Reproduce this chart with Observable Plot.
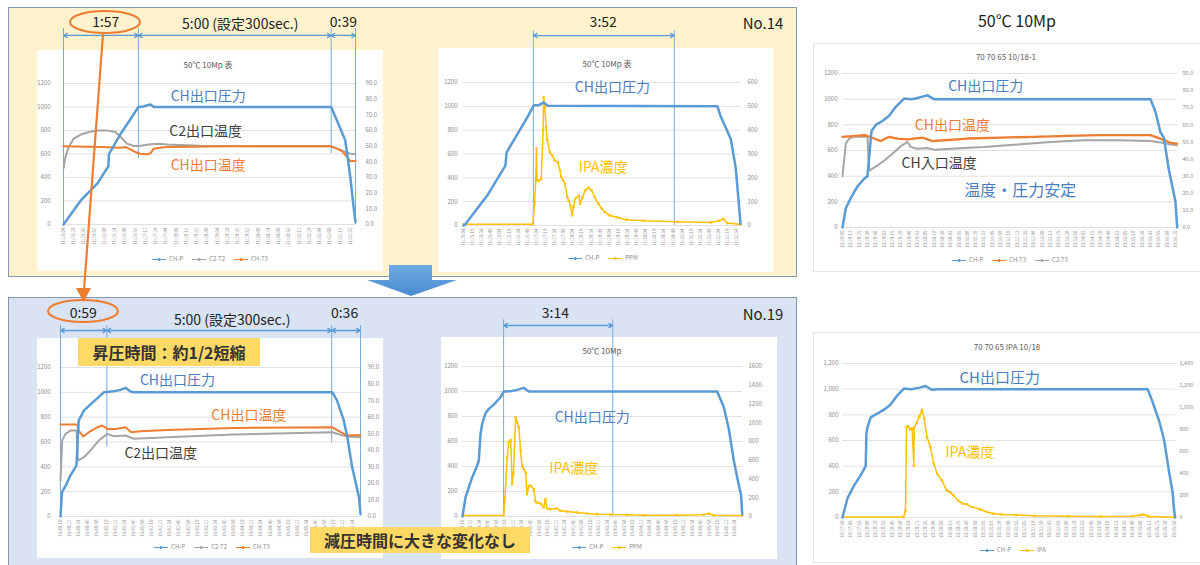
<!DOCTYPE html>
<html><head><meta charset="utf-8">
<script src="https://cdn.jsdelivr.net/npm/d3@7"></script>
<script src="https://cdn.jsdelivr.net/npm/@observablehq/plot@0.6"></script>
<style>
body{margin:0;background:#fff;}
#page{position:relative;width:1200px;height:565px;overflow:hidden;font-family:"Noto Sans CJK JP","Noto Sans",sans-serif;}
.abs{position:absolute;}
.c{position:absolute;transform:translate(-50%,-50%);white-space:nowrap;line-height:1;}
</style></head><body><div id="page"></div><script>
// ---------------- DATA ([seconds, value]) ----------------
// No.14 left chart (CH-P on left axis, temperatures on right axis 0-90)
const n14_CHP  = [[0,0],[27,205],[53,350],[70,495],[71,600],[89,770],[105,900],[117,1000],[125,1005],[131,1015],[136,1021],[141,1000],[418,1000],[429,860],[440,717],[448,400],[453,150],[456,20]];
const n14_C2T2 = [[0,36],[3,43],[8,49.5],[16,54.8],[27,57.4],[40,59],[53,60],[68,60],[81,59],[89,56],[99,51.6],[110,50.1],[118,50.1],[136,51.2],[151,51.6],[162,51],[214,50.3],[318,49.9],[418,49.9],[427,48.4],[440,46.3],[448,45.2],[456,44.8]];
const n14_CHT3 = [[0,49.9],[58,49.5],[89,49],[97,49.5],[105,47.8],[112,46.3],[120,45.2],[131,44.8],[136,45.6],[141,48.4],[151,49],[162,49.5],[266,49.9],[418,49.9],[427,48.4],[435,46.9],[443,43],[448,40.5],[456,40.5]];
// No.14 right chart (CH-P left axis, IPA ppm right axis 0-600)
const n14_P2   = [[0,0],[3,10],[39,251],[69,502],[71,614],[105,907],[116,1010],[124,1010],[132,1033],[139,1005],[418,1000],[423,921],[440,726],[448,488],[452,260],[456,14]];
const n14_IPA  = [[0,5],[114,5],[117,92],[119,189],[120,323],[121,189],[124,189],[128,195],[131,400],[132,538],[134,496],[136,412],[138,357],[142,308],[146,294],[150,273],[155,266],[159,231],[161,203],[164,189],[167,175],[171,119],[173,105],[176,84],[179,42],[181,77],[184,112],[190,126],[192,91],[196,119],[200,147],[206,158],[211,147],[216,119],[222,91],[228,70],[233,56],[241,42],[252,35],[269,24],[297,20],[352,16],[407,13],[421,20],[428,28],[434,10],[456,4]];
// No.19 left chart
const n19_CHP  = [[0,0],[2,196],[7,250],[13,330],[21,411],[24,774],[31,855],[39.5,903],[48,949],[57,1000],[70,1008],[79,1020],[85.6,1036],[92,1006],[97,1000],[358,1000],[364,935],[373,774],[377.6,640],[384,398],[393,156],[395,22]];
const n19_C2T2 = [[0,21.7],[2.2,45.9],[6.6,49.9],[13.2,51.9],[21,51.9],[22.8,33.8],[30.8,35.8],[39.5,39.9],[50.5,45.9],[61.5,49.9],[70,48.5],[85.6,48.9],[96.6,46.9],[140.5,47.9],[228,49.5],[358,50.9],[369,49.3],[377.6,48.3],[395,47.9]];
const n19_CHT3 = [[0,55.6],[22,55.6],[24,51.9],[30,48.3],[37.3,50.9],[48.3,53.9],[55,55],[61.5,52.9],[72.5,52.9],[85.6,53.9],[93,50.9],[105,51.5],[140.5,52.3],[228,53.5],[358,53.9],[369,50.9],[377.6,48.9],[395,49.3]];
// No.19 right chart (IPA right axis 0-1600)
const n19_P2   = [[0,0],[4.2,152],[6.6,192],[13.6,313],[20.7,406],[23,446],[25.4,660],[27.7,740],[32.4,826],[37.1,861],[44.2,895],[53.6,954],[58.3,1000],[67.7,1002],[77.1,1013],[86.5,1029],[93.6,1000],[359.3,1000],[368.7,874],[375.7,700],[382.8,446],[387.5,313],[393.1,166],[394.6,19]];
const n19_IPA  = [[0,10],[58,10],[60,200],[63,630],[65,790],[68,815],[70,345],[72,470],[75,1058],[77,1005],[79.5,951],[82,702],[84,542],[86.5,506],[89,470],[91,239],[93.6,328],[96,328],[100.6,292],[103,160],[105,150],[110,139],[114.7,96],[117,185],[119.4,86],[124,78],[133.5,86],[138,61],[147.6,53],[161.8,43],[176,32],[190,25],[209,21],[232,18],[256,14],[303,14],[340,18],[347.5,32],[354.6,14],[394.6,11]];
// 70 70 65 10/18-1
const r1_CHP   = [[0,0],[5,150],[12.5,230],[22.5,320],[32.5,380],[37.5,400],[43.5,750],[50,800],[60,830],[70,870],[80,940],[92.5,1005],[102.5,1000],[110,1005],[120,1020],[127.5,1030],[137.5,1000],[462.5,1000],[470,900],[477.5,740],[482.5,700],[490,450],[500,200],[502.5,0]];
const r1_CHT3  = [[0,53],[32.5,54],[37.5,53.5],[52.5,51.3],[57.5,50.5],[70,53],[82.5,52],[97.5,51.5],[120,52.5],[135,50.5],[152.5,51],[187.5,52],[237.5,52.5],[287.5,53],[337.5,53.5],[387.5,54],[462.5,54],[480,51.5],[492.5,49.5],[502.5,49]];
const r1_C2T3  = [[0,30],[5,49],[10,52],[17.5,53],[37.5,53],[40,33.3],[47.5,35],[62.5,39],[77.5,44],[87.5,47.5],[97.5,50],[102.5,47],[112.5,46],[127.5,46.5],[137.5,45.5],[162.5,46],[212.5,47],[262.5,48.5],[312.5,50],[362.5,51],[412.5,51],[462.5,50.5],[480,49.5],[492.5,48.5],[502.5,48]];
// 70 70 65 IPA 10/18 (IPA right axis 0-1400)
const r2_CHP   = [[0,0],[7.5,150],[17.5,250],[27.5,330],[35,400],[36,650],[37.5,700],[42.5,780],[52.5,810],[62.5,840],[72.5,880],[82.5,950],[92.5,1005],[102.5,1000],[115,1010],[125,1025],[135,995],[142.5,1000],[460,1000],[467.5,900],[477.5,750],[485,600],[492.5,350],[497.5,200],[500,50],[501.5,0]];
const r2_IPA   = [[0,5],[92,5],[95,60],[96.5,820],[99,830],[102,800],[105,810],[107.5,470],[108,820],[112,860],[116,920],[120,980],[123,900],[127.5,730],[132.5,640],[137.5,490],[142.5,400],[150,335],[157.5,245],[162.5,230],[167.5,200],[175,150],[182,125],[187.5,120],[195,95],[207.5,75],[217.5,50],[227.5,35],[240,28],[262,22],[290,16],[340,12],[390,10],[437,12],[447,20],[452,28],[457,20],[462,8],[500,3]];

// axis tick values
const leftTicks = [0,200,400,600,800,1000,1200];
const tempTicks = [0,10,20,30,40,50,60,70,80,90];
const ppm600Ticks = [0,100,200,300,400,500,600];
const ppm1600Ticks = [0,200,400,600,800,1000,1200,1400,1600];
const ppm1400Ticks = [0,200,400,600,800,1000,1200,1400];
// legends
const legA = [["CH-P","#5b9bd5"],["C2-T2","#a5a5a5"],["CH-T3","#ed7d31"]];
const legB = [["CH-P","#5b9bd5"],["PPM","#ffc000"]];
const legE = [["CH-P","#5b9bd5"],["CH-T3","#ed7d31"],["C2-T3","#a5a5a5"]];
const legF = [["CH-P","#5b9bd5"],["IPA","#ffc000"]];

// ---------------- STYLE ----------------
const FONT = '"Noto Sans CJK JP","Noto Sans",sans-serif';
const BLUE="#5b9bd5", ORANGE="#ed7d31", GRAY="#a5a5a5", YELLOW="#ffc000";
const TBLUE="#4a7ebf", TDARK="#404040", TORANGE="#ed7d31", TYEL="#ffc000";
const page = document.getElementById("page");
function box(x,y,w,h,style){const d=document.createElement("div");d.className="abs";Object.assign(d.style,{left:x+"px",top:y+"px",width:w+"px",height:h+"px",boxSizing:"border-box"},style);page.appendChild(d);return d;}
function label(text,cx,cy,style){const d=document.createElement("div");d.className="c";d.textContent=text;Object.assign(d.style,{left:cx+"px",top:cy+"px"},style);page.appendChild(d);return d;}
function legend(items,cx,cy){
  const d=document.createElement("div");d.className="c";
  Object.assign(d.style,{left:cx+"px",top:cy+"px",display:"flex",gap:"9px",fontSize:"6px",color:"#8c8c8c",alignItems:"center"});
  for(const [n,col] of items){const s=document.createElement("span");Object.assign(s.style,{display:"flex",alignItems:"center",gap:"3px"});
    s.innerHTML=`<svg width="14" height="5"><line x1="0" y1="2.5" x2="14" y2="2.5" stroke="${col}" stroke-width="1"/><circle cx="7" cy="2.5" r="1.5" fill="${col}"/></svg><span>${n}</span>`;d.appendChild(s);}
  page.appendChild(d);
}
const clock = start => t => {const s=start+Math.round(t);const h=Math.floor(s/3600),m=Math.floor(s/60)%60,x=s%60;return `${h}:${String(m).padStart(2,"0")}:${String(x).padStart(2,"0")}`;};
const fmt1 = d => d.toFixed(1), fmtI = d => String(Math.round(d)), fmtC = d3.format(",");

function chart(c){
  const k = 1200/c.rightMax;
  const marks=[
    Plot.gridY({ticks:leftTicks,stroke:"#d9d9d9",strokeOpacity:1,strokeWidth:0.8}),
    Plot.axisY({ticks:leftTicks,anchor:"left",tickSize:0,tickPadding:c.padL,fontSize:6,color:"#8c8c8c",tickFormat:c.leftFmt||fmtI,label:null}),
    Plot.axisY({ticks:c.rightTicks.map(v=>v*k),anchor:"right",tickSize:0,tickPadding:c.padR,fontSize:c.rSize||6,color:"#8c8c8c",tickFormat:d=>c.rightFmt(d/k),label:null}),
    Plot.axisX({ticks:d3.range(0,c.xDomain[1]+0.1,c.xStep),anchor:"bottom",tickSize:0,tickPadding:3,tickRotate:-90,fontSize:4.5,color:"#9a9a9a",tickFormat:clock(c.start),label:null})
  ];
  if(c.vlines) marks.push(Plot.ruleX(c.vlines,{x:"t",y1:"y1",y2:"y2",stroke:"#7aaadc",strokeWidth:1}));
  for(const s of c.series){
    const f = s.right ? (d=>d[1]*k) : (d=>d[1]);
    marks.push(Plot.line(s.data,{x:d=>d[0],y:f,stroke:s.color,strokeWidth:s.width||2,strokeLinejoin:"round"}));
    if(s.dots) marks.push(Plot.dot(s.data,{x:d=>d[0],y:f,r:1.3,fill:s.color}));
  }
  if(c.spans){
    const arr=[];
    for(const [a,b] of c.spans){const m=(a+b)/2;arr.push({x1:m,x2:a},{x1:m,x2:b});}
    marks.push(Plot.arrow(arr,{x1:"x1",x2:"x2",y1:()=>c.spanY,y2:()=>c.spanY,stroke:BLUE,strokeWidth:1.3,headLength:5}));
  }
  for(const t of (c.texts||[])) marks.push(Plot.text([t],{x:"t",y:"v",text:"s",fill:t.color,fontSize:t.size}));
  const svg=Plot.plot({width:c.w,height:c.h,marginLeft:c.mL,marginRight:c.mR,marginTop:c.mT,marginBottom:c.mB,
    x:{domain:c.xDomain},y:{domain:[0,1200]},style:{background:"transparent",fontFamily:FONT,overflow:"visible"},marks});
  const d=document.createElement("div");d.className="abs";Object.assign(d.style,{left:c.x+"px",top:c.y+"px",width:c.w+"px"});
  d.appendChild(svg);page.appendChild(d);
}

// ---------------- LAYOUT ----------------
box(8,7,789,270,{background:"#fff2cc",border:"1.5px solid #8497b0"});
box(8,297,789,275,{background:"#dae3f3",border:"1.5px solid #8497b0"});
box(37,50,346,221,{background:"#fff"});
box(438,48,335,224,{background:"#fff"});
box(37,338,346,220,{background:"#fff"});
box(441,337,336,222,{background:"#fff"});
box(813,43,400,229,{background:"#fff",border:"1px solid #e6e6e6"});
box(813,332,400,231,{background:"#fff",border:"1px solid #e6e6e6"});

const H = 14;
chart({x:37,y:8,w:346,h:262,mL:26,mR:28,mT:75,mB:46,xDomain:[0,456],xStep:16,start:11*3600+25*60+4,
  rightMax:90,rightTicks:tempTicks,rightFmt:fmt1,padL:13,padR:10,
  series:[{data:n14_C2T2,color:GRAY,right:true},{data:n14_CHT3,color:ORANGE,right:true},{data:n14_CHP,color:BLUE,width:2.5}],
  vlines:[{t:0,y1:0,y2:1668},{t:117,y1:562,y2:1668},{t:418,y1:604,y2:1668},{t:456,y1:0,y2:1668}],
  spans:[[0,117],[117,418],[418,456]],spanY:1609,
  texts:[{t:66,v:1719,s:"1:57",color:"#222",size:H},{t:276,v:1702,s:"5:00 (設定300sec.)",color:"#222",size:H},{t:437,v:1719,s:"0:39",color:"#222",size:H},
    {t:226,v:1089,s:"CH出口圧力",color:TBLUE,size:14},{t:222,v:791,s:"C2出口温度",color:TDARK,size:14},{t:226,v:502,s:"CH出口温度",color:TORANGE,size:14}]});

chart({x:438,y:8,w:335,h:262,mL:25,mR:33,mT:74,mB:45,xDomain:[0,456],xStep:15,start:11*3600+25*60+4,
  rightMax:600,rightTicks:ppm600Ticks,rightFmt:fmtI,padL:6,padR:7,
  series:[{data:n14_IPA,color:YELLOW,right:true,width:1.5,dots:true},{data:n14_P2,color:BLUE,width:2.5}],
  vlines:[{t:115,y1:0,y2:1636},{t:347,y1:0,y2:1636}],
  spans:[[115,347]],spanY:1594,
  texts:[{t:230,v:1703,s:"3:52",color:"#222",size:H},{t:245,v:1158,s:"CH出口圧力",color:TBLUE,size:14},{t:230,v:487,s:"IPA濃度",color:TYEL,size:14}]});

chart({x:37,y:297,w:346,h:261,mL:23,mR:23,mT:70,mB:42,xDomain:[0,395],xStep:12,start:15*3600+40*60+10,
  rightMax:90,rightTicks:tempTicks,rightFmt:fmt1,padL:10,padR:7,
  series:[{data:n19_C2T2,color:GRAY,right:true},{data:n19_CHT3,color:ORANGE,right:true},{data:n19_CHP,color:BLUE,width:2.5}],
  vlines:[{t:0,y1:0,y2:1538},{t:61,y1:556,y2:1538},{t:357,y1:596,y2:1538},{t:395,y1:0,y2:1538}],
  spans:[[0,61],[61,357],[357,395]],spanY:1498,
  texts:[{t:30,v:1635,s:"0:59",color:"#222",size:H},{t:226,v:1578,s:"5:00 (設定300sec.)",color:"#222",size:H},{t:374,v:1635,s:"0:36",color:"#222",size:H},
    {t:154,v:1095,s:"CH出口圧力",color:TBLUE,size:14},{t:248,v:813,s:"CH出口温度",color:TORANGE,size:14},{t:132,v:507,s:"C2出口温度",color:TDARK,size:14}]});

chart({x:441,y:297,w:336,h:263,mL:21,mR:35,mT:69,mB:44,xDomain:[0,395],xStep:12,start:15*3600+40*60+10,
  rightMax:1600,rightTicks:ppm1600Ticks,rightFmt:fmtI,padL:5,padR:6,
  series:[{data:n19_IPA,color:YELLOW,right:true,width:1.5,dots:true},{data:n19_P2,color:BLUE,width:2.5}],
  vlines:[{t:58,y1:0,y2:1573},{t:212,y1:0,y2:1573}],
  spans:[[58,212]],spanY:1528,
  texts:[{t:131,v:1624,s:"3:14",color:"#222",size:H},{t:183,v:792,s:"CH出口圧力",color:TBLUE,size:14},{t:157,v:384,s:"IPA濃度",color:TYEL,size:14}]});

chart({x:813,y:42,w:387,h:230,mL:29,mR:23,mT:31,mB:45,xDomain:[0,503],xStep:12.5,start:10*3600+28*60,
  rightMax:90,rightTicks:tempTicks,rightFmt:fmt1,padL:5,padR:5,rSize:5.5,
  series:[{data:r1_C2T3,color:GRAY,right:true},{data:r1_CHT3,color:ORANGE,right:true,width:2.3},{data:r1_CHP,color:BLUE,width:2.5}],
  texts:[{t:215,v:1101,s:"CH出口圧力",color:TBLUE,size:14},{t:165,v:796,s:"CH出口温度",color:TORANGE,size:14},{t:145,v:496,s:"CH入口温度",color:TDARK,size:14},{t:267,v:287,s:"温度・圧力安定",color:TBLUE,size:16}]});

chart({x:813,y:332,w:387,h:230,mL:29,mR:25,mT:31,mB:45,xDomain:[0,502],xStep:12.5,start:10*3600+27*60+30,
  rightMax:1400,rightTicks:ppm1400Ticks,rightFmt:fmtC,leftFmt:fmtC,padL:4,padR:4,rSize:5.5,
  series:[{data:r2_IPA,color:YELLOW,right:true,width:1.5,dots:true},{data:r2_CHP,color:BLUE,width:2.5}],
  texts:[{t:237,v:1083,s:"CH出口圧力",color:TBLUE,size:15},{t:192,v:509,s:"IPA濃度",color:TYEL,size:14}]});

// titles, legends, labels
const tt={fontSize:"8px",color:"#595959"};
label("50℃ 10Mp 表",208,65,tt);
label("50℃ 10Mp 表",607,64,tt);
label("50℃ 10Mp",602,351,tt);
label("70 70 65 10/18-1",1006,57,tt);
label("70 70 65 IPA 10/18",1007,347,tt);
label("50℃ 10Mp",1017,20,{fontSize:"16px",color:"#222"});
label("No.14",763,22,{fontSize:"15px",color:"#222"});
label("No.19",763,313,{fontSize:"15px",color:"#222"});
legend(legA,210,259); legend(legB,603,258); legend(legA,212,547); legend(legB,607,547); legend(legE,1010,260); legend(legF,1013,550);

// decorations overlay
const ov=document.createElementNS("http://www.w3.org/2000/svg","svg");
ov.setAttribute("width","1200");ov.setAttribute("height","565");
Object.assign(ov.style,{position:"absolute",left:"0",top:"0",pointerEvents:"none"});
ov.innerHTML=`<defs><linearGradient id="bg" x1="0" y1="0" x2="0" y2="1"><stop offset="0" stop-color="#6ea9e0"/><stop offset="1" stop-color="#4a8bd0"/></linearGradient></defs>
<ellipse cx="105" cy="22" rx="35" ry="11" fill="none" stroke="#ed7d31" stroke-width="2"/>
<ellipse cx="83" cy="311" rx="35" ry="11" fill="none" stroke="#ed7d31" stroke-width="2"/>
<line x1="103" y1="34" x2="84" y2="290" stroke="#ed7d31" stroke-width="2.2"/>
<polygon points="76,288 91,288 83.5,302" fill="#ed7d31"/>
<polygon points="389,265 432,265 432,280 457,280 411,296 367,280 389,280" fill="url(#bg)"/>`;
page.appendChild(ov);

box(78,338,182,28,{background:"#ffd966",display:"flex",alignItems:"center",justifyContent:"center",fontSize:"16px",fontWeight:"bold",color:"#333"}).textContent="昇圧時間：約1/2短縮";
box(310,527,220,26,{background:"#ffd966",display:"flex",alignItems:"center",justifyContent:"center",fontSize:"16px",fontWeight:"bold",color:"#333"}).textContent="減圧時間に大きな変化なし";
</script></body></html>
